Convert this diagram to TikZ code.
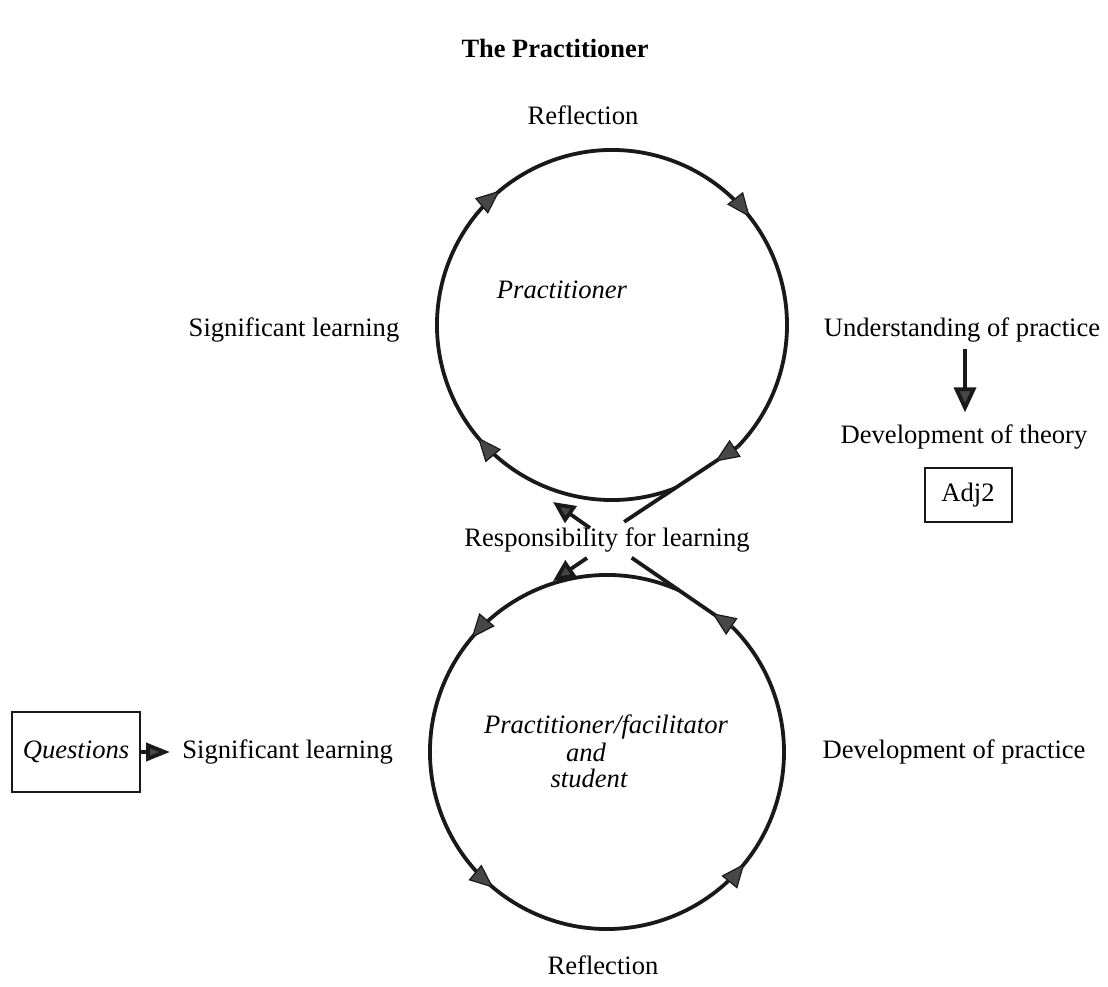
\documentclass[tikz,border=0pt]{standalone}
\usepackage{fontspec}
\setmainfont{Liberation Serif}
\usetikzlibrary{arrows.meta,decorations.markings,calc}
\begin{document}
\begin{tikzpicture}[x=0.5pt,y=0.5pt,
  lbl/.style={font=\fontsize{13.3}{16}\selectfont, inner sep=0pt},
  ilbl/.style={lbl, font=\fontsize{13.3}{16}\selectfont\itshape},
  boxnode/.style={draw=black!90, line width=1pt, inner sep=0pt},
  ring/.style={draw=black!90, line width=1.9pt},
  tri/.tip={Triangle[length=12pt,width=10pt,fill=black!72]},
  conn/.style={draw=black!90, line width=1.9pt},
  marks/.style n args={3}{postaction={decorate}, decoration={markings,
     mark=at position #1 with {\arrow[draw=black!90,line width=0.6pt]{tri}},
     mark=at position #2 with {\arrow[draw=black!90,line width=0.6pt]{tri}},
     mark=at position #3 with {\arrow[draw=black!90,line width=0.6pt]{tri}}}},
  onemark/.style={postaction={decorate}, decoration={markings,
     mark=at position #1 with {\arrow[draw=black!90,line width=0.6pt]{tri}}}}
]
\useasboundingbox (0,0) rectangle (1108,986);

% title
\node[font=\fontsize{13.2}{16}\selectfont\bfseries, inner sep=0pt] (title) at (555,938) {The Practitioner};

% circle centres
\coordinate (ct) at (612,661);
\coordinate (cb) at (607,234);
\def\rt{87.5pt}
\def\rb{88.5pt}

% top circle
\coordinate (tA) at ($(ct)+(-44:\rt)$);
\coordinate (tB) at ($(ct)+(-69:\rt)$);
\coordinate (tE) at ($(tA)!1.8!(tB)$);
\draw[ring, marks={0.212}{0.481}{0.755}] (tB) arc[start angle=-69, end angle=-404, radius=\rt];
\draw[conn, onemark=0.2] (tA) -- (tE);

% bottom circle
\coordinate (bA) at ($(cb)+(45:\rb)$);
\coordinate (bB) at ($(cb)+(66:\rb)$);
\coordinate (bE) at ($(bA)!1.89!(bB)$);
\draw[ring, marks={0.218}{0.484}{0.752}] (bB) arc[start angle=66, end angle=405, radius=\rb];
\draw[conn, onemark=0.2] (bA) -- (bE);

% labels
\node[lbl] (refl1) at (583,871) {Reflection};
\node[lbl] (sig1) at (294,656) {Significant learning};
\node[ilbl] (prac) at (562,696) {Practitioner};
\node[lbl] (under) at (962,656) {Understanding of practice};
\node[lbl] (devth) at (964,549) {Development of theory};
\node[boxnode, minimum width=43.5pt, minimum height=27pt, font=\fontsize{13.3}{16}\selectfont] (adj) at (968,491) {Adj2};
\node[lbl] (resp) at (607,446) {Responsibility for learning};
\node[boxnode, minimum width=64pt, minimum height=40pt, font=\fontsize{13.3}{16}\selectfont\itshape] (quest) at (76,234) {Questions};
\node[lbl, anchor=west] (sig2) at (182,234) {Significant learning};
\node[ilbl] (pf1) at (606,259) {Practitioner/facilitator};
\node[ilbl] (pf2) at (586,234) {and};
\node[ilbl] (pf3) at (589,208) {student};
\node[lbl] (devpr) at (954,234) {Development of practice};
\node[lbl] (refl2) at (603,21) {Reflection};

% arrows
\coordinate (dtop) at ([xshift=1.5pt,yshift=-3pt]under.south);
\coordinate (dbot) at ([yshift=6pt]devth.north);
\draw[conn, -{Triangle[length=12.5pt,width=11pt,fill=black!72]}] (dtop) -- (dtop |- dbot);
\draw[conn, -{Triangle[length=12pt,width=9pt,fill=black!72]}, shorten >=6pt] (quest.east) -- (sig2.west);

% short arrows near the crossing
\coordinate (s1) at (590,458);
\coordinate (s1t) at (553,484);
\coordinate (s2) at (587,428);
\coordinate (s2t) at (553,405);
\draw[conn, -{Triangle[length=11pt,width=10pt,fill=black!72]}] (s1) -- (s1t);
\draw[conn, -{Triangle[length=11pt,width=10pt,fill=black!72]}] (s2) -- (s2t);
\end{tikzpicture}
\end{document}
